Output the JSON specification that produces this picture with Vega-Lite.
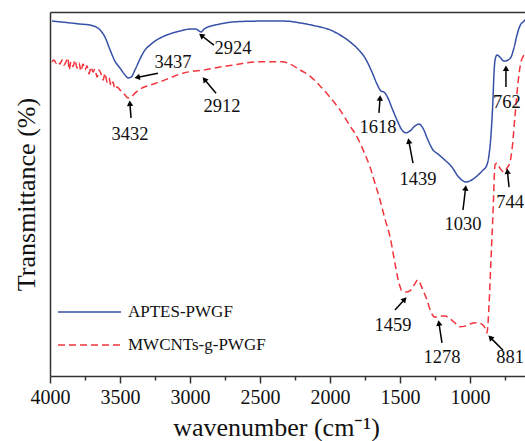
{
  "$schema": "https://vega.github.io/schema/vega-lite/v6.json",
  "autosize": "none",
  "width": 475,
  "height": 364,
  "padding": {"left": 50, "top": 12, "right": 0, "bottom": 65},
  "background": "white",
  "config": {
    "view": {"stroke": null},
    "font": "Liberation Serif",
    "axis": {"domainColor": "#333333", "domainWidth": 1.5, "tickColor": "#333333", "tickWidth": 1.5}
  },
  "datasets": {
    "spectra": [
      {"series": "APTES-PWGF", "w": 3986, "T": 97.5},
      {"series": "APTES-PWGF", "w": 3929, "T": 97.3},
      {"series": "APTES-PWGF", "w": 3857, "T": 97.0},
      {"series": "APTES-PWGF", "w": 3786, "T": 96.7},
      {"series": "APTES-PWGF", "w": 3714, "T": 96.4},
      {"series": "APTES-PWGF", "w": 3671, "T": 95.9},
      {"series": "APTES-PWGF", "w": 3643, "T": 95.1},
      {"series": "APTES-PWGF", "w": 3607, "T": 93.1},
      {"series": "APTES-PWGF", "w": 3571, "T": 89.6},
      {"series": "APTES-PWGF", "w": 3536, "T": 86.5},
      {"series": "APTES-PWGF", "w": 3500, "T": 84.6},
      {"series": "APTES-PWGF", "w": 3464, "T": 82.7},
      {"series": "APTES-PWGF", "w": 3443, "T": 81.9},
      {"series": "APTES-PWGF", "w": 3421, "T": 82.1},
      {"series": "APTES-PWGF", "w": 3393, "T": 84.1},
      {"series": "APTES-PWGF", "w": 3357, "T": 87.1},
      {"series": "APTES-PWGF", "w": 3321, "T": 89.6},
      {"series": "APTES-PWGF", "w": 3286, "T": 90.9},
      {"series": "APTES-PWGF", "w": 3250, "T": 92.0},
      {"series": "APTES-PWGF", "w": 3200, "T": 93.1},
      {"series": "APTES-PWGF", "w": 3143, "T": 94.0},
      {"series": "APTES-PWGF", "w": 3071, "T": 94.8},
      {"series": "APTES-PWGF", "w": 3000, "T": 95.3},
      {"series": "APTES-PWGF", "w": 2957, "T": 95.3},
      {"series": "APTES-PWGF", "w": 2936, "T": 94.8},
      {"series": "APTES-PWGF", "w": 2921, "T": 94.5},
      {"series": "APTES-PWGF", "w": 2900, "T": 95.3},
      {"series": "APTES-PWGF", "w": 2871, "T": 95.9},
      {"series": "APTES-PWGF", "w": 2843, "T": 96.2},
      {"series": "APTES-PWGF", "w": 2786, "T": 96.7},
      {"series": "APTES-PWGF", "w": 2679, "T": 97.3},
      {"series": "APTES-PWGF", "w": 2500, "T": 97.5},
      {"series": "APTES-PWGF", "w": 2321, "T": 97.5},
      {"series": "APTES-PWGF", "w": 2214, "T": 97.0},
      {"series": "APTES-PWGF", "w": 2107, "T": 96.2},
      {"series": "APTES-PWGF", "w": 2000, "T": 95.1},
      {"series": "APTES-PWGF", "w": 1929, "T": 93.7},
      {"series": "APTES-PWGF", "w": 1857, "T": 91.8},
      {"series": "APTES-PWGF", "w": 1800, "T": 89.8},
      {"series": "APTES-PWGF", "w": 1750, "T": 87.4},
      {"series": "APTES-PWGF", "w": 1700, "T": 83.5},
      {"series": "APTES-PWGF", "w": 1664, "T": 80.2},
      {"series": "APTES-PWGF", "w": 1636, "T": 78.3},
      {"series": "APTES-PWGF", "w": 1614, "T": 78.0},
      {"series": "APTES-PWGF", "w": 1593, "T": 76.9},
      {"series": "APTES-PWGF", "w": 1557, "T": 73.6},
      {"series": "APTES-PWGF", "w": 1521, "T": 70.3},
      {"series": "APTES-PWGF", "w": 1486, "T": 67.6},
      {"series": "APTES-PWGF", "w": 1457, "T": 66.8},
      {"series": "APTES-PWGF", "w": 1429, "T": 67.3},
      {"series": "APTES-PWGF", "w": 1393, "T": 68.7},
      {"series": "APTES-PWGF", "w": 1364, "T": 69.2},
      {"series": "APTES-PWGF", "w": 1336, "T": 68.1},
      {"series": "APTES-PWGF", "w": 1300, "T": 64.8},
      {"series": "APTES-PWGF", "w": 1264, "T": 62.1},
      {"series": "APTES-PWGF", "w": 1229, "T": 61.0},
      {"series": "APTES-PWGF", "w": 1179, "T": 59.3},
      {"series": "APTES-PWGF", "w": 1129, "T": 57.4},
      {"series": "APTES-PWGF", "w": 1086, "T": 54.9},
      {"series": "APTES-PWGF", "w": 1050, "T": 53.6},
      {"series": "APTES-PWGF", "w": 1029, "T": 53.3},
      {"series": "APTES-PWGF", "w": 1000, "T": 53.6},
      {"series": "APTES-PWGF", "w": 957, "T": 54.7},
      {"series": "APTES-PWGF", "w": 914, "T": 56.3},
      {"series": "APTES-PWGF", "w": 879, "T": 58.0},
      {"series": "APTES-PWGF", "w": 864, "T": 60.7},
      {"series": "APTES-PWGF", "w": 850, "T": 66.2},
      {"series": "APTES-PWGF", "w": 836, "T": 75.8},
      {"series": "APTES-PWGF", "w": 829, "T": 82.7},
      {"series": "APTES-PWGF", "w": 821, "T": 86.8},
      {"series": "APTES-PWGF", "w": 807, "T": 88.2},
      {"series": "APTES-PWGF", "w": 786, "T": 87.6},
      {"series": "APTES-PWGF", "w": 757, "T": 86.5},
      {"series": "APTES-PWGF", "w": 729, "T": 86.8},
      {"series": "APTES-PWGF", "w": 707, "T": 87.6},
      {"series": "APTES-PWGF", "w": 686, "T": 90.1},
      {"series": "APTES-PWGF", "w": 664, "T": 93.7},
      {"series": "APTES-PWGF", "w": 643, "T": 96.2},
      {"series": "APTES-PWGF", "w": 614, "T": 97.5},
      {"series": "APTES-PWGF", "w": 600, "T": 98.1},

      {"series": "MWCNTs-g-PWGF", "w": 3986, "T": 86.3},
      {"series": "MWCNTs-g-PWGF", "w": 3971, "T": 86.8},
      {"series": "MWCNTs-g-PWGF", "w": 3957, "T": 86.0},
      {"series": "MWCNTs-g-PWGF", "w": 3943, "T": 86.5},
      {"series": "MWCNTs-g-PWGF", "w": 3929, "T": 85.7},
      {"series": "MWCNTs-g-PWGF", "w": 3914, "T": 86.8},
      {"series": "MWCNTs-g-PWGF", "w": 3900, "T": 85.4},
      {"series": "MWCNTs-g-PWGF", "w": 3886, "T": 86.3},
      {"series": "MWCNTs-g-PWGF", "w": 3871, "T": 87.4},
      {"series": "MWCNTs-g-PWGF", "w": 3864, "T": 84.1},
      {"series": "MWCNTs-g-PWGF", "w": 3850, "T": 86.3},
      {"series": "MWCNTs-g-PWGF", "w": 3836, "T": 85.0},
      {"series": "MWCNTs-g-PWGF", "w": 3821, "T": 86.8},
      {"series": "MWCNTs-g-PWGF", "w": 3807, "T": 84.6},
      {"series": "MWCNTs-g-PWGF", "w": 3793, "T": 86.0},
      {"series": "MWCNTs-g-PWGF", "w": 3779, "T": 83.8},
      {"series": "MWCNTs-g-PWGF", "w": 3764, "T": 85.7},
      {"series": "MWCNTs-g-PWGF", "w": 3750, "T": 84.1},
      {"series": "MWCNTs-g-PWGF", "w": 3736, "T": 85.2},
      {"series": "MWCNTs-g-PWGF", "w": 3721, "T": 83.0},
      {"series": "MWCNTs-g-PWGF", "w": 3707, "T": 84.9},
      {"series": "MWCNTs-g-PWGF", "w": 3693, "T": 83.5},
      {"series": "MWCNTs-g-PWGF", "w": 3679, "T": 84.3},
      {"series": "MWCNTs-g-PWGF", "w": 3664, "T": 82.1},
      {"series": "MWCNTs-g-PWGF", "w": 3650, "T": 84.1},
      {"series": "MWCNTs-g-PWGF", "w": 3636, "T": 83.0},
      {"series": "MWCNTs-g-PWGF", "w": 3621, "T": 81.3},
      {"series": "MWCNTs-g-PWGF", "w": 3607, "T": 83.2},
      {"series": "MWCNTs-g-PWGF", "w": 3593, "T": 80.8},
      {"series": "MWCNTs-g-PWGF", "w": 3579, "T": 81.9},
      {"series": "MWCNTs-g-PWGF", "w": 3564, "T": 79.7},
      {"series": "MWCNTs-g-PWGF", "w": 3550, "T": 80.8},
      {"series": "MWCNTs-g-PWGF", "w": 3536, "T": 78.8},
      {"series": "MWCNTs-g-PWGF", "w": 3521, "T": 79.4},
      {"series": "MWCNTs-g-PWGF", "w": 3500, "T": 78.6},
      {"series": "MWCNTs-g-PWGF", "w": 3471, "T": 77.5},
      {"series": "MWCNTs-g-PWGF", "w": 3443, "T": 76.4},
      {"series": "MWCNTs-g-PWGF", "w": 3421, "T": 76.6},
      {"series": "MWCNTs-g-PWGF", "w": 3393, "T": 77.7},
      {"series": "MWCNTs-g-PWGF", "w": 3357, "T": 78.8},
      {"series": "MWCNTs-g-PWGF", "w": 3286, "T": 79.9},
      {"series": "MWCNTs-g-PWGF", "w": 3214, "T": 80.8},
      {"series": "MWCNTs-g-PWGF", "w": 3143, "T": 81.9},
      {"series": "MWCNTs-g-PWGF", "w": 3050, "T": 83.2},
      {"series": "MWCNTs-g-PWGF", "w": 2964, "T": 83.8},
      {"series": "MWCNTs-g-PWGF", "w": 2893, "T": 84.1},
      {"series": "MWCNTs-g-PWGF", "w": 2786, "T": 84.9},
      {"series": "MWCNTs-g-PWGF", "w": 2693, "T": 85.4},
      {"series": "MWCNTs-g-PWGF", "w": 2607, "T": 86.0},
      {"series": "MWCNTs-g-PWGF", "w": 2500, "T": 86.3},
      {"series": "MWCNTs-g-PWGF", "w": 2336, "T": 86.3},
      {"series": "MWCNTs-g-PWGF", "w": 2286, "T": 85.7},
      {"series": "MWCNTs-g-PWGF", "w": 2214, "T": 84.1},
      {"series": "MWCNTs-g-PWGF", "w": 2143, "T": 82.4},
      {"series": "MWCNTs-g-PWGF", "w": 2071, "T": 79.7},
      {"series": "MWCNTs-g-PWGF", "w": 2000, "T": 76.6},
      {"series": "MWCNTs-g-PWGF", "w": 1929, "T": 73.1},
      {"series": "MWCNTs-g-PWGF", "w": 1857, "T": 68.7},
      {"series": "MWCNTs-g-PWGF", "w": 1807, "T": 65.7},
      {"series": "MWCNTs-g-PWGF", "w": 1757, "T": 61.5},
      {"series": "MWCNTs-g-PWGF", "w": 1714, "T": 57.4},
      {"series": "MWCNTs-g-PWGF", "w": 1679, "T": 53.0},
      {"series": "MWCNTs-g-PWGF", "w": 1643, "T": 48.4},
      {"series": "MWCNTs-g-PWGF", "w": 1607, "T": 43.1},
      {"series": "MWCNTs-g-PWGF", "w": 1571, "T": 38.2},
      {"series": "MWCNTs-g-PWGF", "w": 1536, "T": 31.0},
      {"series": "MWCNTs-g-PWGF", "w": 1507, "T": 25.5},
      {"series": "MWCNTs-g-PWGF", "w": 1486, "T": 23.4},
      {"series": "MWCNTs-g-PWGF", "w": 1457, "T": 23.1},
      {"series": "MWCNTs-g-PWGF", "w": 1429, "T": 23.4},
      {"series": "MWCNTs-g-PWGF", "w": 1400, "T": 25.0},
      {"series": "MWCNTs-g-PWGF", "w": 1371, "T": 26.4},
      {"series": "MWCNTs-g-PWGF", "w": 1343, "T": 24.2},
      {"series": "MWCNTs-g-PWGF", "w": 1307, "T": 20.9},
      {"series": "MWCNTs-g-PWGF", "w": 1279, "T": 17.6},
      {"series": "MWCNTs-g-PWGF", "w": 1250, "T": 16.2},
      {"series": "MWCNTs-g-PWGF", "w": 1214, "T": 16.5},
      {"series": "MWCNTs-g-PWGF", "w": 1179, "T": 16.5},
      {"series": "MWCNTs-g-PWGF", "w": 1143, "T": 15.7},
      {"series": "MWCNTs-g-PWGF", "w": 1107, "T": 14.6},
      {"series": "MWCNTs-g-PWGF", "w": 1071, "T": 13.5},
      {"series": "MWCNTs-g-PWGF", "w": 1036, "T": 13.7},
      {"series": "MWCNTs-g-PWGF", "w": 1000, "T": 14.3},
      {"series": "MWCNTs-g-PWGF", "w": 950, "T": 14.6},
      {"series": "MWCNTs-g-PWGF", "w": 907, "T": 14.0},
      {"series": "MWCNTs-g-PWGF", "w": 886, "T": 12.6},
      {"series": "MWCNTs-g-PWGF", "w": 879, "T": 11.8},
      {"series": "MWCNTs-g-PWGF", "w": 864, "T": 19.5},
      {"series": "MWCNTs-g-PWGF", "w": 850, "T": 31.9},
      {"series": "MWCNTs-g-PWGF", "w": 836, "T": 44.2},
      {"series": "MWCNTs-g-PWGF", "w": 821, "T": 58.0},
      {"series": "MWCNTs-g-PWGF", "w": 807, "T": 58.5},
      {"series": "MWCNTs-g-PWGF", "w": 786, "T": 57.1},
      {"series": "MWCNTs-g-PWGF", "w": 757, "T": 56.0},
      {"series": "MWCNTs-g-PWGF", "w": 736, "T": 57.1},
      {"series": "MWCNTs-g-PWGF", "w": 714, "T": 58.8},
      {"series": "MWCNTs-g-PWGF", "w": 700, "T": 62.1},
      {"series": "MWCNTs-g-PWGF", "w": 679, "T": 71.2},
      {"series": "MWCNTs-g-PWGF", "w": 657, "T": 80.5},
      {"series": "MWCNTs-g-PWGF", "w": 636, "T": 86.3},
      {"series": "MWCNTs-g-PWGF", "w": 614, "T": 88.2},
      {"series": "MWCNTs-g-PWGF", "w": 593, "T": 89.6}
    ],
    "peaks": [
      {"label": "3437", "tw": 3121, "tT": 86.3, "w1": 3229, "T1": 83.2, "w2": 3371, "T2": 82.1},
      {"label": "2924", "tw": 2693, "tT": 90.1, "w1": 2829, "T1": 90.9, "w2": 2914, "T2": 93.4},
      {"label": "2912", "tw": 2771, "tT": 74.2, "w1": 2814, "T1": 77.7, "w2": 2893, "T2": 81.3},
      {"label": "3432", "tw": 3429, "tT": 66.5, "w1": 3421, "T1": 70.9, "w2": 3429, "T2": 74.7},
      {"label": "1618", "tw": 1657, "tT": 68.4, "w1": 1650, "T1": 72.3, "w2": 1643, "T2": 76.1},
      {"label": "1439", "tw": 1371, "tT": 54.1, "w1": 1407, "T1": 58.5, "w2": 1436, "T2": 64.3},
      {"label": "1030", "tw": 1050, "tT": 41.8, "w1": 1050, "T1": 45.6, "w2": 1032, "T2": 51.4},
      {"label": "762", "tw": 736, "tT": 75.3, "w1": 743, "T1": 79.4, "w2": 743, "T2": 84.3},
      {"label": "744", "tw": 714, "tT": 47.8, "w1": 721, "T1": 51.9, "w2": 732, "T2": 56.0},
      {"label": "1459", "tw": 1550, "tT": 14.0, "w1": 1536, "T1": 18.1, "w2": 1471, "T2": 20.9},
      {"label": "1278", "tw": 1200, "tT": 5.2, "w1": 1200, "T1": 9.1, "w2": 1221, "T2": 14.3},
      {"label": "881", "tw": 714, "tT": 5.2, "w1": 764, "T1": 7.1, "w2": 850, "T2": 10.4}
    ]
  },
  "resolve": {"axis": {"x": "independent", "y": "independent"}},
  "layer": [
    {
      "data": {"name": "spectra"},
      "mark": {"type": "line", "strokeWidth": 1.5, "clip": true, "interpolate": "monotone"},
      "encoding": {
        "x": {
          "field": "w", "type": "quantitative",
          "scale": {"domain": [607, 4000], "reverse": true, "nice": false, "zero": false},
          "axis": {
            "orient": "bottom",
            "title": "wavenumber (cm⁻¹)",
            "titleFont": "Liberation Serif", "titleFontSize": 26, "titleFontWeight": "normal", "titleColor": "#111111", "titlePadding": 7,
            "titleX": 226,
            "values": [4000, 3750, 3500, 3250, 3000, 2750, 2500, 2250, 2000, 1750, 1500, 1250, 1000, 750],
            "format": "d",
            "labelExpr": "datum.value % 500 === 0 ? datum.label : ''",
            "labelFont": "Liberation Serif", "labelFontSize": 20, "labelColor": "#111111", "labelPadding": 4,
            "labelFlush": false, "labelOverlap": false,
            "tickSize": {"condition": {"test": "datum.value % 500 === 0", "value": 7}, "value": 4},
            "grid": false
          }
        },
        "y": {
          "field": "T", "type": "quantitative",
          "scale": {"domain": [0, 100], "nice": false, "zero": false},
          "axis": {
            "orient": "left",
            "title": "Transmittance (%)",
            "titleFont": "Liberation Serif", "titleFontSize": 26, "titleFontWeight": "normal", "titleColor": "#111111", "titlePadding": 11,
            "labels": false, "ticks": false, "grid": false
          }
        },
        "color": {
          "field": "series", "type": "nominal",
          "scale": {"domain": ["APTES-PWGF", "MWCNTs-g-PWGF"], "range": ["#3650a8", "#f2343c"]},
          "legend": {
            "title": null, "orient": "none", "legendX": 7, "legendY": 290,
            "symbolType": "stroke", "symbolSize": 3969, "symbolStrokeWidth": 1.5,
            "labelFont": "Liberation Serif", "labelFontSize": 17, "labelColor": "#111111", "labelOffset": 6,
            "clipHeight": 20, "rowPadding": 13, "padding": 0
          }
        },
        "strokeDash": {
          "field": "series", "type": "nominal",
          "scale": {"domain": ["APTES-PWGF", "MWCNTs-g-PWGF"], "range": [[1, 0], [7, 4]]},
          "legend": {
            "title": null, "orient": "none", "legendX": 7, "legendY": 290,
            "symbolType": "stroke", "symbolSize": 3969, "symbolStrokeWidth": 1.5,
            "labelFont": "Liberation Serif", "labelFontSize": 17, "labelColor": "#111111", "labelOffset": 6,
            "clipHeight": 20, "rowPadding": 13, "padding": 0
          }
        }
      }
    },
    {
      "data": {"name": "peaks"},
      "mark": {"type": "rule", "color": "black", "strokeWidth": 1.5},
      "encoding": {
        "x": {
          "field": "w1", "type": "quantitative",
          "axis": {"orient": "top", "title": null, "labels": false, "ticks": false, "grid": false}
        },
        "y": {"field": "T1", "type": "quantitative", "axis": null},
        "x2": {"field": "w2"},
        "y2": {"field": "T2"}
      }
    },
    {
      "data": {"name": "peaks"},
      "transform": [
        {"calculate": "atan2((datum.w1 - datum.w2) * 0.14, (datum.T2 - datum.T1) * 3.64) * 180 / PI", "as": "heading"}
      ],
      "mark": {"type": "point", "shape": "triangle", "filled": true, "color": "black", "opacity": 1, "size": 40},
      "encoding": {
        "x": {"field": "w2", "type": "quantitative", "axis": null},
        "y": {"field": "T2", "type": "quantitative", "axis": null},
        "angle": {"field": "heading", "type": "quantitative", "scale": null}
      }
    },
    {
      "data": {"name": "peaks"},
      "mark": {"type": "text", "font": "Liberation Serif", "fontSize": 18.5, "color": "#111111", "align": "center", "baseline": "middle"},
      "encoding": {
        "x": {"field": "tw", "type": "quantitative", "axis": null},
        "y": {"field": "tT", "type": "quantitative", "axis": null},
        "text": {"field": "label", "type": "nominal"}
      }
    }
  ]
}
